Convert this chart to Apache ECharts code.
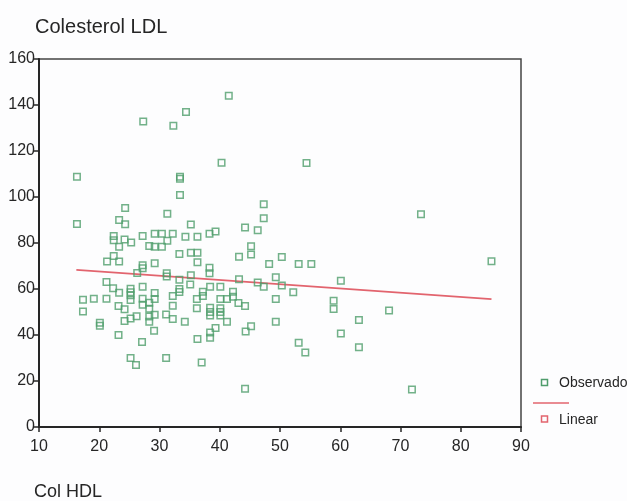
<!DOCTYPE html>
<html>
<head>
<meta charset="utf-8">
<script src="https://cdn.jsdelivr.net/npm/echarts@6/dist/echarts.min.js"></script>
<style>
  html, body { margin: 0; padding: 0; background: #fdfdfe; }
  #chart { width: 627px; height: 501px; }
</style>
</head>
<body>
<div id="chart"></div>
<script>
// Col HDL (x) against Colesterol LDL (y), observed cases
const hdlObs = [
  16.3, 16.3, 27.3, 32.3, 34.4, 41.5, 40.3, 54.4, 33.4, 33.4, 33.4, 24.3, 23.3, 24.3, 31.3, 35.2, 44.2, 46.3, 47.3, 47.3, 73.4, 85.1,
  22.4, 22.4, 23.3, 24.2, 25.3, 27.2, 28.3, 29.2, 29.2, 30.4, 30.4, 31.3, 32.2, 34.3, 36.3, 38.3, 39.3, 45.2, 45.2, 43.2, 33.3, 35.2,
  36.3, 36.3, 21.3, 22.4, 23.3, 29.2, 27.2, 27.2, 26.3, 31.2, 31.2, 33.3, 35.2, 38.3, 38.3, 43.2, 48.2, 50.3, 46.3, 47.3, 49.3, 50.3,
  52.2, 53.1, 55.2, 60.1, 58.9, 58.9, 68.1, 63.1, 60.1, 63.1, 71.9,
  21.2, 22.3, 23.3, 17.3, 17.3, 19.1, 21.2, 23.2, 24.2, 25.2, 25.2, 25.2, 25.2, 27.2, 27.2, 27.2, 28.3, 28.3, 29.2, 29.2, 28.3, 28.3,
  29.2, 31.1, 32.2, 32.2, 32.2, 33.3, 33.3, 35.1, 34.2, 36.2, 36.2, 37.2, 37.2, 38.4, 38.4, 38.4, 38.4, 40.1, 40.1, 40.1, 40.1, 40.1,
  41.2, 42.2, 42.2, 43.1, 44.2, 41.2, 49.3, 49.3,
  20.1, 20.1, 24.2, 25.2, 26.2, 23.2, 27.1, 29.1, 36.3, 38.4, 38.4, 39.3, 44.3, 45.2, 53.1, 54.2,
  25.2, 26.1, 31.1, 37.0, 44.2
];
const ldlObs = [
  108.8, 88.3, 132.8, 131.0, 137.0, 144.0, 114.9, 114.8, 108.8, 107.9, 100.9, 95.2, 90.0, 88.1, 92.7, 88.0, 86.7, 85.5, 96.8, 90.8, 92.5, 72.1,
  83.0, 81.2, 78.4, 81.5, 80.2, 83.0, 78.7, 84.0, 78.4, 84.0, 78.4, 81.0, 84.0, 82.7, 82.7, 84.0, 85.0, 78.6, 75.0, 74.0, 75.2, 75.8,
  75.8, 71.6, 72.0, 74.3, 72.0, 71.2, 70.3, 69.0, 67.0, 66.8, 65.4, 64.0, 66.0, 69.2, 66.8, 64.2, 70.9, 73.9, 62.8, 61.0, 65.1, 61.5,
  58.6, 70.9, 70.9, 63.6, 54.9, 51.3, 50.7, 46.5, 40.6, 34.7, 16.3,
  63.0, 60.3, 58.4, 55.3, 50.2, 55.8, 55.8, 52.6, 51.2, 60.1, 58.6, 57.3, 55.2, 61.0, 55.8, 53.2, 54.0, 51.4, 58.3, 55.7, 48.0, 45.8,
  48.8, 48.9, 57.0, 52.7, 47.0, 58.7, 60.0, 62.0, 45.8, 55.6, 51.6, 58.8, 57.0, 61.0, 51.8, 50.0, 48.5, 61.0, 55.6, 51.6, 50.0, 48.5,
  55.6, 58.8, 56.6, 53.9, 52.6, 45.8, 55.6, 45.8,
  45.3, 44.0, 46.1, 47.2, 48.1, 40.0, 37.0, 41.8, 38.3, 41.1, 38.8, 43.0, 41.5, 43.8, 36.6, 32.4,
  30.0, 27.0, 30.0, 28.0, 16.6
];
// Linear fit drawn between its two ends
const linearX = [16.2, 85.1];
const linearY = [68.3, 55.6];

const xTicks = [10, 20, 30, 40, 50, 60, 70, 80, 90];
const yTicks = [0, 20, 40, 60, 80, 100, 120, 140, 160];

const GREEN = '#4f9d6c';
const RED = '#e2646e';
const INK = '#262626';
const FONT = '"Liberation Sans", Arial, sans-serif';

const chart = echarts.init(document.getElementById('chart'), null, { renderer: 'canvas' });

const axisCommon = {
  type: 'value',
  axisLine: { show: true, lineStyle: { color: INK, width: 2 } },
  axisTick: { show: true, length: 5, lineStyle: { color: INK, width: 1.5 } },
  splitLine: { show: false },
  axisLabel: { color: INK, fontSize: 16, fontFamily: FONT }
};

chart.setOption({
  backgroundColor: '#fdfdfe',
  animation: false,
  grid: {
    left: 39, right: 106, top: 59, bottom: 74,
    show: true, borderColor: '#444', borderWidth: 1.5, backgroundColor: 'transparent'
  },
  xAxis: Object.assign({}, axisCommon, {
    min: xTicks[0], max: xTicks[xTicks.length - 1], interval: 10,
    axisLabel: Object.assign({}, axisCommon.axisLabel, { margin: 12 })
  }),
  yAxis: Object.assign({}, axisCommon, {
    min: yTicks[0], max: yTicks[yTicks.length - 1], interval: 20,
    axisLabel: Object.assign({}, axisCommon.axisLabel, { margin: 4 })
  }),
  series: [
    {
      name: 'Observado',
      type: 'scatter',
      symbol: 'rect',
      symbolSize: 6.5,
      data: hdlObs.map((x, i) => [x, ldlObs[i]]),
      itemStyle: { color: 'rgba(0,0,0,0)', borderColor: GREEN, borderWidth: 1.5 },
      z: 3
    },
    {
      name: 'Linear',
      type: 'line',
      showSymbol: false,
      data: linearX.map((x, i) => [x, linearY[i]]),
      lineStyle: { color: RED, width: 1.6 },
      z: 2
    }
  ],
  graphic: [
    {
      type: 'text', left: 35, top: 17,
      style: { text: 'Colesterol LDL', font: '20px ' + FONT, fill: INK }
    },
    {
      type: 'text', left: 34, top: 483,
      style: { text: 'Col HDL', font: '18px ' + FONT, fill: INK }
    },
    // legend block
    {
      type: 'rect', shape: { x: 541.5, y: 379.5, width: 6, height: 6 },
      style: { fill: 'none', stroke: GREEN, lineWidth: 1.5 }
    },
    {
      type: 'text', x: 559, y: 383,
      style: { text: 'Observado', font: '14px ' + FONT, fill: INK, verticalAlign: 'middle' }
    },
    {
      type: 'line', shape: { x1: 533, y1: 403, x2: 569, y2: 403 },
      style: { stroke: RED, lineWidth: 1.6 }
    },
    {
      type: 'rect', shape: { x: 541.5, y: 416, width: 6, height: 6 },
      style: { fill: 'none', stroke: RED, lineWidth: 1.5 }
    },
    {
      type: 'text', x: 559, y: 420.5,
      style: { text: 'Linear', font: '14px ' + FONT, fill: INK, verticalAlign: 'middle' }
    }
  ]
});
</script>
</body>
</html>
